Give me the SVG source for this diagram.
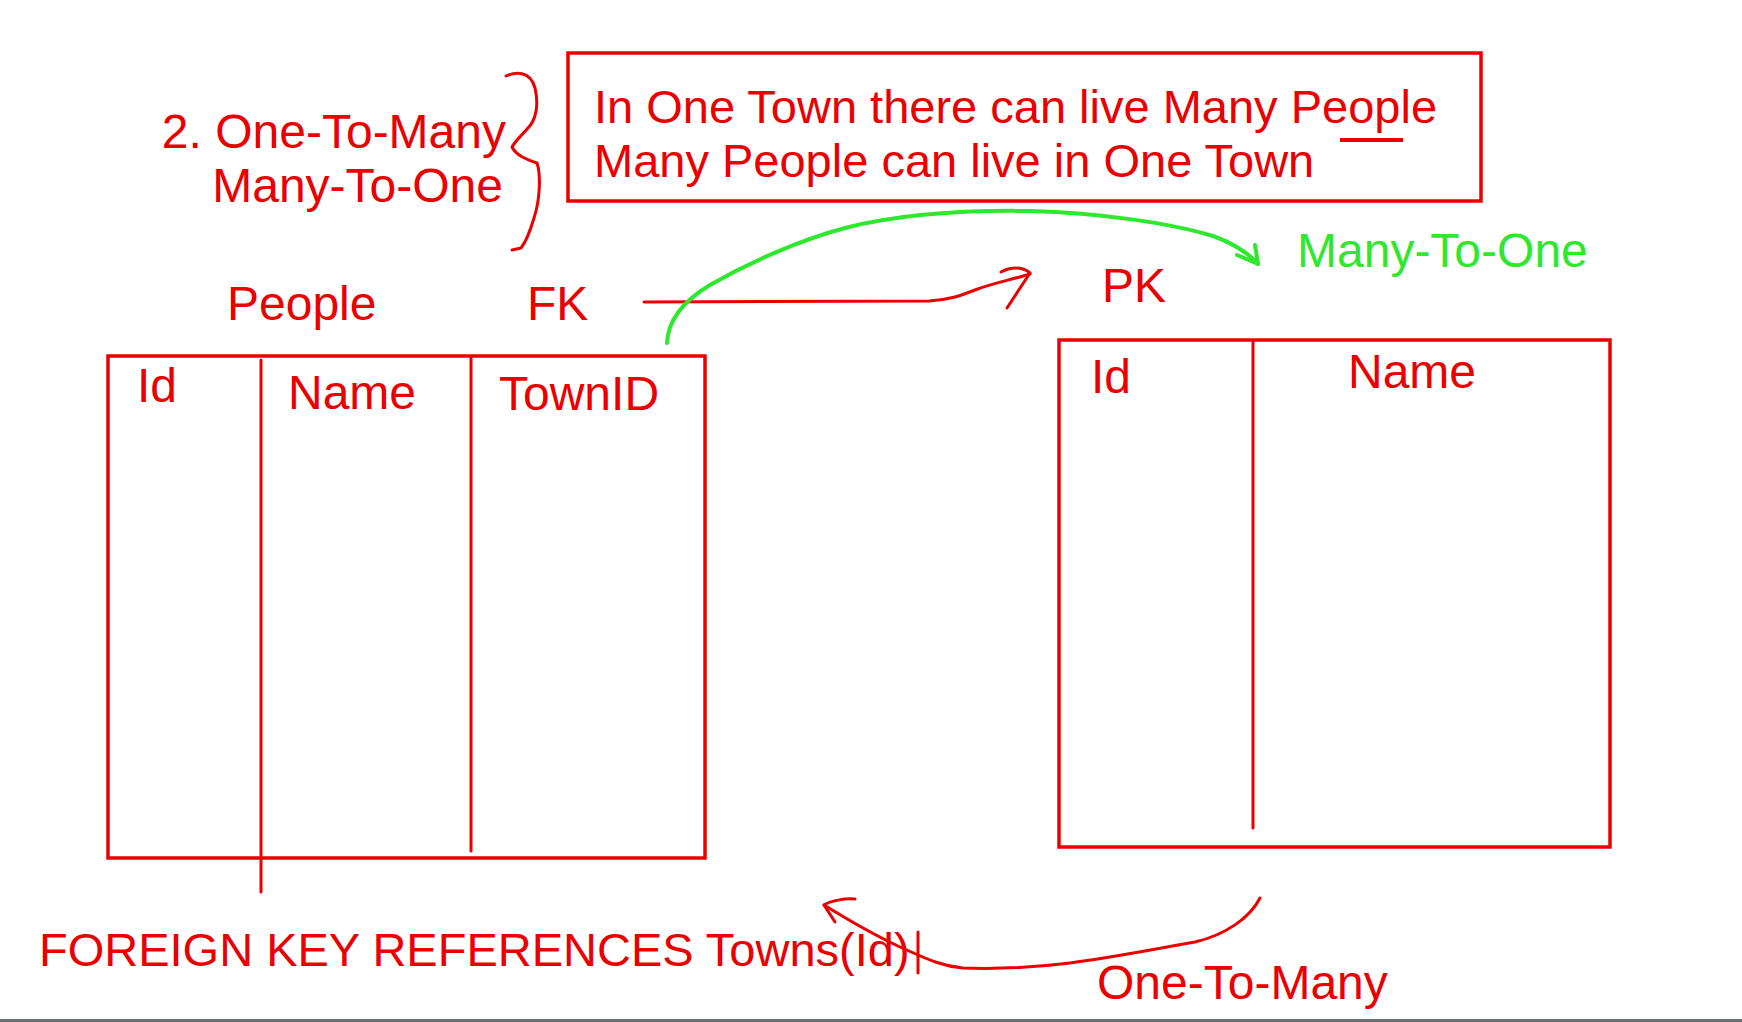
<svg xmlns="http://www.w3.org/2000/svg" width="1742" height="1022" viewBox="0 0 1742 1022">
<style>
.t{font-family:"Liberation Sans",Arial,sans-serif;font-size:48px;fill:#ea0000}
.s{font-size:47px}
.g{fill:#2ee82e}
.box{fill:none;stroke:#ea0000;stroke-width:3.5}
.ln{fill:none;stroke:#ea0000;stroke-width:3;stroke-linecap:round;stroke-linejoin:round}
.gl{fill:none;stroke:#2ee82e;stroke-width:4;stroke-linecap:round;stroke-linejoin:round}
</style>
<rect x="0" y="0" width="1742" height="1022" fill="#ffffff"/>
<rect x="0" y="1019" width="1742" height="3" fill="#6b6e75"/>

<g id="title">
<text class="t" x="506" y="148" text-anchor="end">2. One-To-Many</text>
<text class="t" x="503" y="202" text-anchor="end">Many-To-One</text>
<path class="ln" d="M506 76 C515 72 530 70 535 88 C539 105 536 120 528 128 C522 135 516 140 512 147 C516 155 525 159 537 163 C541 175 540 200 534 218 C529 235 525 243 521 248 L512 250"/>
</g>

<g id="note">
<rect class="box" x="568" y="53" width="913" height="148"/>
<text class="t s" x="594" y="123">In One Town there can live Many People</text>
<text class="t s" x="594" y="177">Many People can live in One Town</text>
<line x1="1340" y1="140" x2="1403" y2="140" stroke="#ea0000" stroke-width="4"/>
</g>

<g id="people">
<text class="t" x="227" y="320">People</text>
<text class="t" x="527" y="320">FK</text>
<rect class="box" x="108" y="356" width="597" height="502"/>
<line class="ln" x1="261" y1="360" x2="261" y2="892"/>
<line class="ln" x1="471" y1="358" x2="471" y2="851"/>
<text class="t" x="137" y="402">Id</text>
<text class="t" x="288" y="409">Name</text>
<text class="t" x="499" y="410">TownID</text>
<text class="t s" x="39" y="966">FOREIGN KEY REFERENCES Towns(Id)</text>
<line class="ln" x1="918" y1="932" x2="918" y2="973"/>
</g>

<g id="towns">
<text class="t" x="1102" y="302">PK</text>
<rect class="box" x="1059" y="340" width="551" height="507"/>
<line class="ln" x1="1253" y1="342" x2="1253" y2="828"/>
<text class="t" x="1091" y="393">Id</text>
<text class="t" x="1348" y="388">Name</text>
</g>

<g id="connectors">
<path class="ln" stroke-width="3.5" d="M644 302 L929 301 C950 300 962 295 975 290 C990 284 1010 280 1030 274"/>
<path class="ln" stroke-width="3.5" d="M1001 272 C1010 267 1022 266 1030 273 L1007 308"/>
<path class="gl" d="M667 343 C668 318 685 300 710 285 C750 262 800 240 845 228 C900 214 960 210 1030 211 C1100 213 1170 223 1213 236 C1235 244 1250 255 1258 264"/>
<path class="gl" d="M1237 255 L1258 264 L1255 245"/>
<path class="ln" d="M1260 898 C1250 918 1225 935 1195 942 C1150 950 1110 958 1070 963 C1030 968 990 969 963 968 C940 966 925 958 900 947 C870 933 845 918 824 905"/>
<path class="ln" d="M855 899 C845 898 830 901 824 905 L835 922"/>
<text class="t" x="1097" y="999">One-To-Many</text>
<text class="t g" x="1297" y="267">Many-To-One</text>
</g>
</svg>
